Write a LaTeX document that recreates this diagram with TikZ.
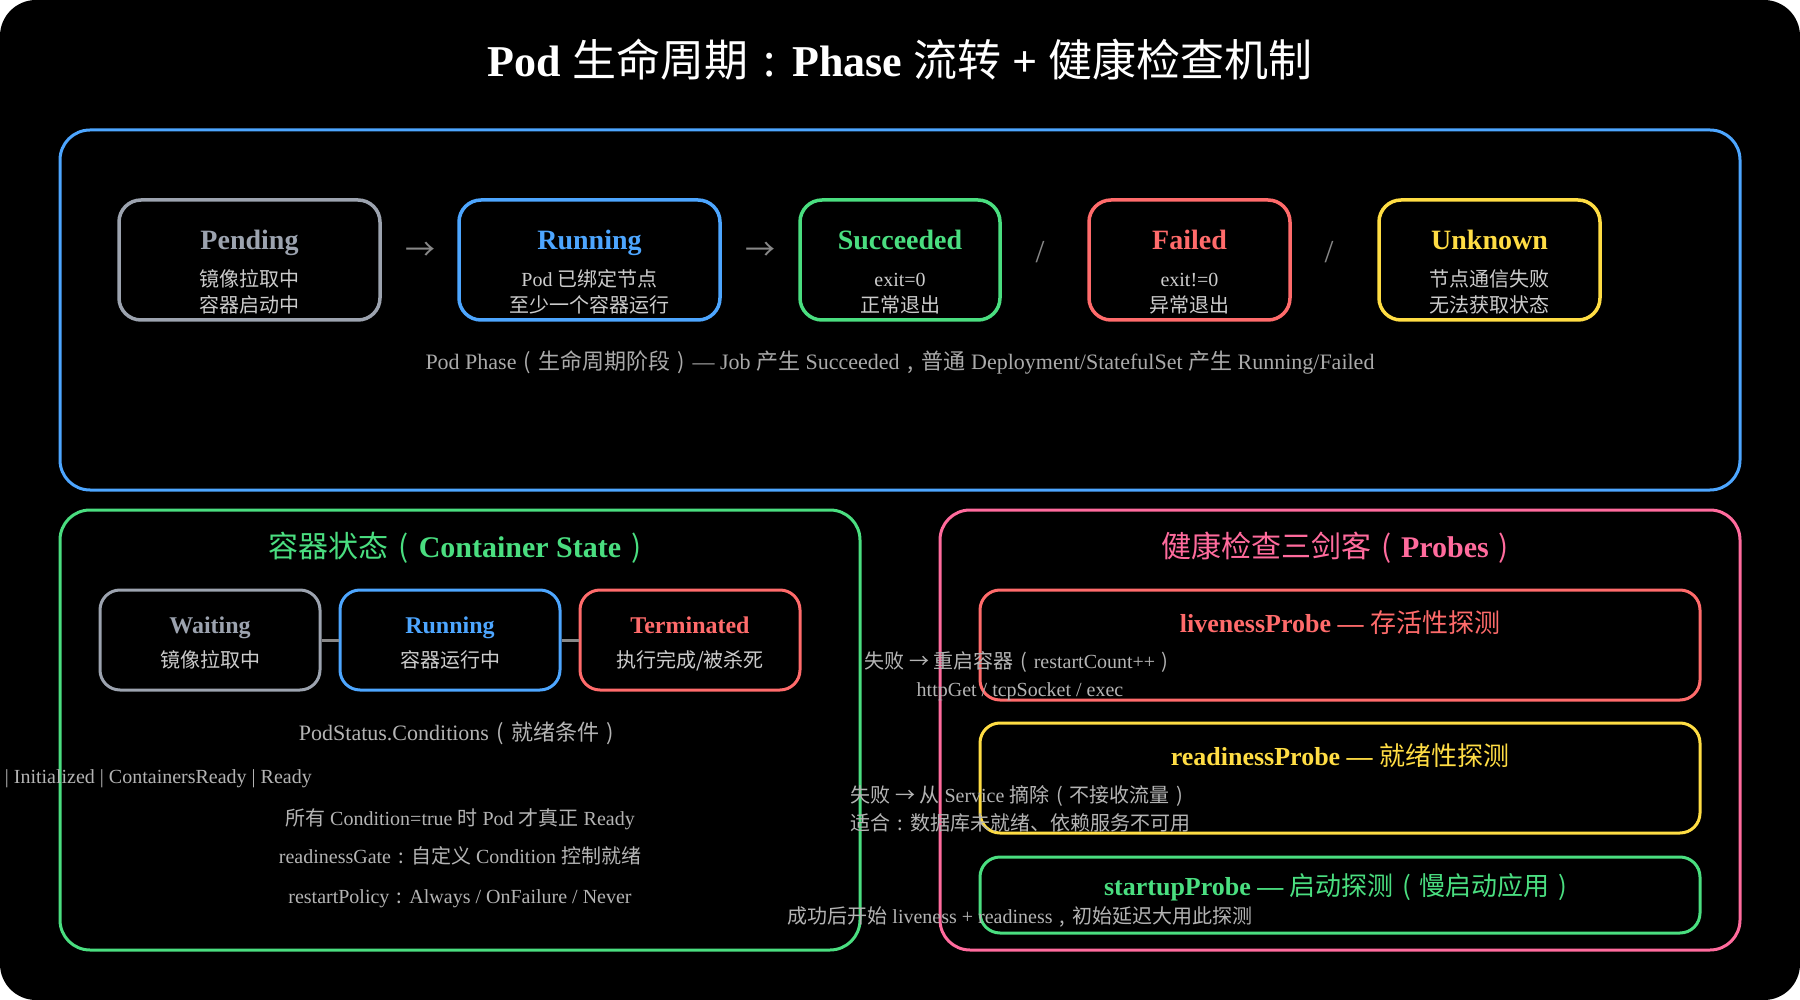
\documentclass[tikz,border=0pt]{standalone}
\usepackage{fontspec}
\setmainfont{Liberation Serif}
\newfontfamily\cjk{Noto Sans CJK SC}
\newcommand\zh[1]{{\cjk\mdseries #1}}
\newcommand\lp{\makebox[1em]{\cjk\mdseries (}}
\newcommand\rp{\makebox[1em]{\cjk\mdseries )}}
\newcommand\fcol{\makebox[1em]{\cjk\mdseries :}}
\newcommand\fcom{\makebox[1em]{\cjk\mdseries ,}}
\newcommand\fs[1]{\fontsize{#1}{#1}\selectfont}
\definecolor{cblue}{HTML}{4DA6FF}
\definecolor{cgreen}{HTML}{4ADE80}
\definecolor{cred}{HTML}{FF6B6B}
\definecolor{cyellow}{HTML}{FFDD44}
\definecolor{cgray}{HTML}{9CA3AF}
\definecolor{cpink}{HTML}{FF6B9D}
\definecolor{subtxt}{HTML}{CCCCCC}
\definecolor{dimtxt}{HTML}{AAAAAA}
\definecolor{desctxt}{HTML}{B4B4B4}
\definecolor{linkgray}{HTML}{888888}
\begin{document}
\begin{tikzpicture}[x=1pt,y=-1pt,
  frame/.style={draw, line width=3pt, rounded corners=30pt, inner sep=0pt},
  phasebox/.style={draw, line width=3.5pt, rounded corners=22pt, minimum height=120pt, inner sep=0pt},
  statebox/.style={draw, line width=3pt, rounded corners=20pt, minimum width=220pt, minimum height=100pt, inner sep=0pt},
  probebox/.style={draw, line width=3pt, rounded corners=20pt, minimum width=720pt, inner sep=0pt},
  txt/.style={anchor=base, inner sep=0pt},
  ptitle/.style={txt, font={\fs{28}\bfseries}},
  psub/.style={txt, text=subtxt, font={\fs{20}}},
  stitle/.style={txt, font={\fs{24}\bfseries}},
  sectitle/.style={txt, font={\fs{30}\bfseries}},
  prtitle/.style={txt, font={\fs{26}\bfseries}},
  desc/.style={txt, text=desctxt, font={\fs{20}}},
  glyph/.style={inner sep=0pt, text=linkgray},
  link/.style={draw=linkgray, line width=3pt}
]
\useasboundingbox (0,0) rectangle (1800,1000);
\fill[black, rounded corners=36pt] (0,0) rectangle (1800,1000);

% title
\node[txt, text=white, font={\fs{44}\bfseries}] (title) at (900,77) {Pod \zh{生命周期}\fcol{}Phase \zh{流转} + \zh{健康检查机制}};

% phase section
\node[frame, draw=cblue, minimum width=1680pt, minimum height=360pt] (phaseframe) at (900,310) {};
\node[phasebox, draw=cgray, minimum width=261pt] (pending) at (249.5,260) {};
\node[phasebox, draw=cblue, minimum width=261pt] (running) at (589.5,260) {};
\node[phasebox, draw=cgreen, minimum width=200pt] (succeeded) at (900,260) {};
\node[phasebox, draw=cred, minimum width=201pt] (failed) at (1189.5,260) {};
\node[phasebox, draw=cyellow, minimum width=221pt] (unknown) at (1489.5,260) {};

\node[ptitle, text=cgray] (pendingT) at (249.5,250) {Pending};
\node[psub] (pendingA) at (249.5,287) {\zh{镜像拉取中}};
\node[psub] (pendingB) at (249.5,313) {\zh{容器启动中}};
\node[ptitle, text=cblue] (runningT) at (589.5,250) {Running};
\node[psub] (runningA) at (589.5,287) {Pod \zh{已绑定节点}};
\node[psub] (runningB) at (589.5,313) {\zh{至少一个容器运行}};
\node[ptitle, text=cgreen] (succeededT) at (900,250) {Succeeded};
\node[psub] (succeededA) at (900,287) {exit=0};
\node[psub] (succeededB) at (900,313) {\zh{正常退出}};
\node[ptitle, text=cred] (failedT) at (1189.5,250) {Failed};
\node[psub] (failedA) at (1189.5,287) {exit!=0};
\node[psub] (failedB) at (1189.5,313) {\zh{异常退出}};
\node[ptitle, text=cyellow] (unknownT) at (1489.5,250) {Unknown};
\node[psub] (unknownA) at (1489.5,287) {\zh{节点通信失败}};
\node[psub] (unknownB) at (1489.5,313) {\zh{无法获取状态}};

\node[glyph, font={\fs{30}}] (arr1) at (420,251) {\zh{→}};
\node[glyph, font={\fs{30}}] (arr2) at (760,251) {\zh{→}};
\node[glyph, font={\fs{32}}] (sl1) at (1040,252) {/};
\node[glyph, font={\fs{32}}] (sl2) at (1329,252) {/};

\node[txt, text=dimtxt, font={\fs{22}}] (phasecap) at (900,370) {Pod Phase\lp\zh{生命周期阶段}\rp— Job \zh{产生} Succeeded\fcom\zh{普通} Deployment/StatefulSet \zh{产生} Running/Failed};

% container state section
\node[frame, draw=cgreen, minimum width=800pt, minimum height=440pt] (stateframe) at (460,730) {};
\node[sectitle, text=cgreen] (stateT) at (460,557) {\zh{容器状态}\lp{}Container State\rp};
\node[statebox, draw=cgray] (waiting) at (210,640) {};
\node[statebox, draw=cblue] (crun) at (450,640) {};
\node[statebox, draw=cred] (term) at (690,640) {};
\draw[link] (waiting.east) -- (crun.west);
\draw[link] (crun.east) -- (term.west);
\node[stitle, text=cgray] (waitingT) at (210,633) {Waiting};
\node[psub] (waitingS) at (210,667) {\zh{镜像拉取中}};
\node[stitle, text=cblue] (crunT) at (450,633) {Running};
\node[psub] (crunS) at (450,667) {\zh{容器运行中}};
\node[stitle, text=cred] (termT) at (690,633) {Terminated};
\node[psub] (termS) at (690,667) {\zh{执行完成/被杀死}};

\node[desc, font={\fs{22}}] (condT) at (460,740) {PodStatus.Conditions\lp\zh{就绪条件}\rp};
\node[desc, anchor=base east] (condL) at (312,783) {PodScheduled | Initialized | ContainersReady | Ready};
\node[desc] (cond1) at (460,825) {\zh{所有} Condition=true \zh{时} Pod \zh{才真正} Ready};
\node[desc] (cond2) at (460,863) {readinessGate\fcol\zh{自定义} Condition \zh{控制就绪}};
\node[desc] (cond3) at (460,903) {restartPolicy\fcol{}Always / OnFailure / Never};

% probes section
\node[frame, draw=cpink, minimum width=800pt, minimum height=440pt] (probeframe) at (1340,730) {};
\node[sectitle, text=cpink] (probeT) at (1340,557) {\zh{健康检查三剑客}\lp{}Probes\rp};
\node[probebox, draw=cred, minimum height=110pt] (live) at (1340,645) {};
\node[probebox, draw=cyellow, minimum height=110pt] (ready) at (1340,778) {};
\node[probebox, draw=cgreen, minimum height=76pt] (startup) at (1340,895) {};
\node[prtitle, text=cred] (liveT) at (1340,632) {livenessProbe — \zh{存活性探测}};
\node[prtitle, text=cyellow] (readyT) at (1340,765) {readinessProbe — \zh{就绪性探测}};
\node[prtitle, text=cgreen] (startupT) at (1340,895) {startupProbe — \zh{启动探测}\lp\zh{慢启动应用}\rp};

\node[desc] (live1) at (1020,668) {\zh{失败 → 重启容器}\lp{}restartCount++\rp};
\node[desc] (live2) at (1020,696) {httpGet / tcpSocket / exec};
\node[desc] (ready1) at (1020,802) {\zh{失败 → 从} Service \zh{摘除}\lp\zh{不接收流量}\rp};
\node[desc] (ready2) at (1020,830) {\zh{适合}\fcol\zh{数据库未就绪、依赖服务不可用}};
\node[desc] (startup1) at (1020,923) {\zh{成功后开始} liveness + readiness\fcom\zh{初始延迟大用此探测}};
\end{tikzpicture}
\end{document}
